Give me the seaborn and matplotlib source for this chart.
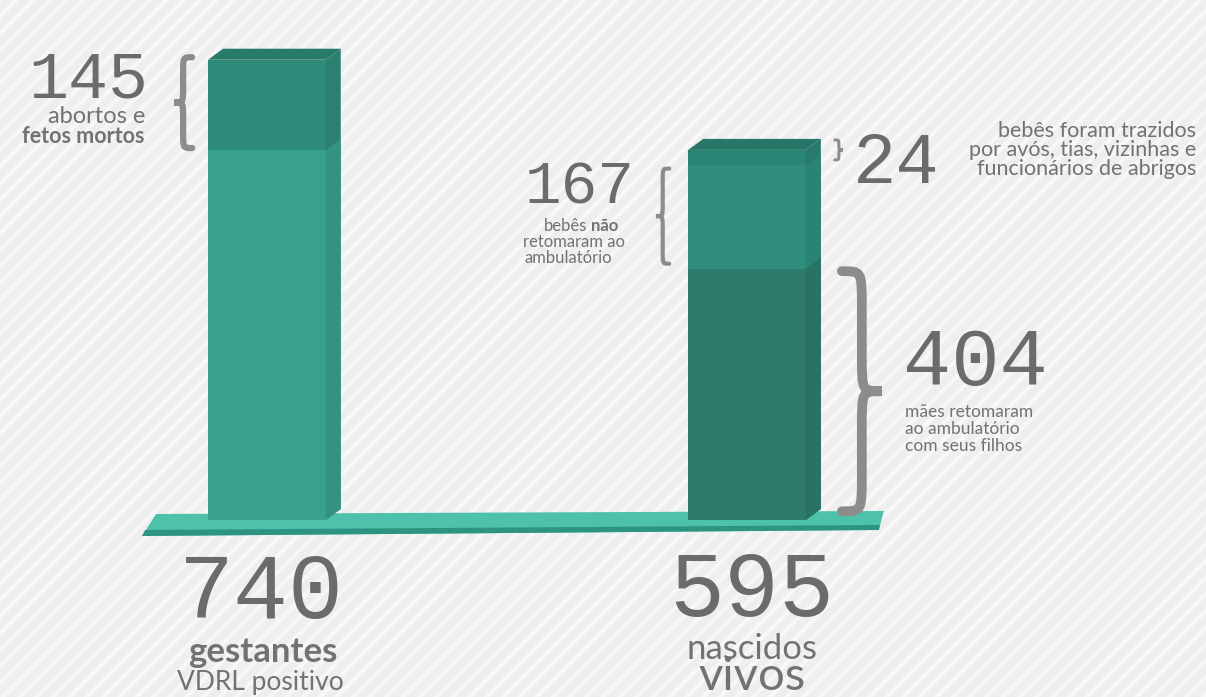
import numpy as np
import pandas as pd
import matplotlib
matplotlib.use("Agg")
import matplotlib.pyplot as plt
import seaborn as sns
from matplotlib.patches import Polygon, Rectangle, PathPatch
from matplotlib.path import Path

# ---------------- data ----------------
categories = ["gestantes VDRL positivo", "nascidos vivos"]
totals = [740, 595]
abortos_fetos_mortos = 145
trazidos_por_outros = 24
nao_retornaram = 167
maes_retornaram = 404

# cumulative layers (drawn tallest first, overlapping = stacked look)
layer_values = [
    [totals[0], totals[1]],
    [totals[0] - abortos_fetos_mortos, totals[1] - trazidos_por_outros],
    [0, maes_retornaram],
]
front_colors = [
    ["#2f8b79", "#2b8575"],
    ["#39a08b", "#2f8e7d"],
    ["#39a08b", "#2d7b6a"],
]
side_colors = [
    ["#2b8070", "#287b6c"],
    ["#33937f", "#2b8374"],
    ["#33937f", "#2a7264"],
]
top_colors = ["#287a69", "#277667"]

# ---------------- style ----------------
sns.set_theme(style="white")
plt.rcParams["font.family"] = ["Lato", "DejaVu Sans"]
plt.rcParams["hatch.linewidth"] = 3.0

W_PX, H_PX = 1206, 697
fig = plt.figure(figsize=(W_PX / 100, H_PX / 100), dpi=100)
ax = fig.add_axes([0, 0, 1, 1])

XLIM = (-0.556, 1.956)
YLIM = (-284.6, 836.0)
sx = (XLIM[1] - XLIM[0]) / W_PX   # data units per pixel (x)
sy = (YLIM[1] - YLIM[0]) / H_PX   # data units per pixel (y)

# striped background
ax.add_patch(Rectangle((0, 0), 1, 1, transform=ax.transAxes, facecolor="#eeeeee",
                       edgecolor="#f7f7f7", linewidth=0, hatch="//", zorder=-10))

DX, DY = 15 * sx, 11 * sy
bar_geom = {}
for li, vals in enumerate(layer_values):
    n0 = len(ax.patches)
    sns.barplot(x=categories, y=vals, hue=categories,
                palette=dict(zip(categories, front_colors[li])),
                width=0.245, saturation=1, legend=False, errorbar=None,
                linewidth=0, ax=ax, zorder=3 + li)
    new = sorted(ax.patches[n0:], key=lambda p: p.get_x())
    for ci, p in enumerate(new):
        h = p.get_height()
        if h <= 0:
            continue
        x0 = p.get_x()
        x1 = x0 + p.get_width()
        ax.add_patch(Polygon([(x1, 0), (x1 + DX, DY), (x1 + DX, h + DY), (x1, h)],
                             closed=True, facecolor=side_colors[li][ci],
                             edgecolor="none", zorder=3 + li))
        if li == 0:
            ax.add_patch(Polygon([(x0, h), (x0 + DX, h + DY), (x1 + DX, h + DY), (x1, h)],
                                 closed=True, facecolor=top_colors[ci],
                                 edgecolor="none", zorder=3 + li))
            bar_geom[ci] = (x0, x1, h)

# platform
xl = bar_geom[0][0] - 66 * sx
xr = bar_geom[1][1] + 76 * sx
ax.add_patch(Polygon([(xl, -16 * sy), (xl + 14 * sx, 6 * sy), (xr + 2 * sx, 9 * sy),
                      (xr - 3 * sx, -10 * sy)], closed=True,
                     facecolor="#4ec1aa", edgecolor="none", zorder=2))
ax.add_patch(Polygon([(xl, -16 * sy), (xl + 3 * sx, -10 * sy), (xr - 2 * sx, -5 * sy),
                      (xr - 3 * sx, -10 * sy)], closed=True,
                     facecolor="#2e9482", edgecolor="none", zorder=2))


def brace(x_tip, y0, y1, width_px, side, lw, color="#8c8c8c"):
    """side=-1 -> '{' (point to the left), +1 -> '}' (point to the right)"""
    w = side * width_px * sx
    r = min(width_px * 0.9, abs(y1 - y0) / sy / 4) * sy
    ym = (y0 + y1) / 2
    xs = x_tip + w * 0.5
    verts = [(x_tip, y1),
             (xs, y1), (xs, y1), (xs, y1 - r),
             (xs, ym + r),
             (xs, ym), (xs, ym), (x_tip + w, ym),
             (xs, ym), (xs, ym), (xs, ym - r),
             (xs, y0 + r),
             (xs, y0), (xs, y0), (x_tip, y0)]
    codes = [Path.MOVETO,
             Path.CURVE4, Path.CURVE4, Path.CURVE4,
             Path.LINETO,
             Path.CURVE4, Path.CURVE4, Path.CURVE4,
             Path.CURVE4, Path.CURVE4, Path.CURVE4,
             Path.LINETO,
             Path.CURVE4, Path.CURVE4, Path.CURVE4]
    ax.add_patch(PathPatch(Path(verts, codes), facecolor="none", edgecolor=color,
                           linewidth=lw, capstyle="round", zorder=6))


b0x0, b0x1, b0h = bar_geom[0]
b1x0, b1x1, b1h = bar_geom[1]
brace(b0x0 - 16 * sx, totals[0] - abortos_fetos_mortos + 3, totals[0] + 4, 18, -1, 4.5)
brace(b1x1 + DX + 14 * sx, totals[1] - trazidos_por_outros + 8, totals[1] + 16, 8, +1, 2.2)
brace(b1x0 - 19 * sx, maes_retornaram + 8, maes_retornaram + nao_retornaram - 6, 13, -1, 3.0)
brace(b1x1 + 36 * sx, 14, maes_retornaram - 4, 40, +1, 7)

ax.set_xlim(*XLIM)
ax.set_ylim(*YLIM)
ax.axis("off")

# ---------------- texts ----------------
NUM = "#6b6b6b"
LAB = "#727272"


def T(px, py, s, size, ha="left", fam=None, weight="normal", color=LAB):
    fig.text(px / W_PX, 1 - py / H_PX, s, fontsize=size, ha=ha, va="baseline",
             family=fam or ["Lato", "DejaVu Sans"], fontweight=weight, color=color)


MONO = ["Liberation Mono", "DejaVu Sans Mono"]
T(148, 97, str(abortos_fetos_mortos), 48, ha="right", fam=MONO, color=NUM)
T(145, 123, "abortos e", 17, ha="right")
T(145, 143, "fetos mortos", 15.5, ha="right", weight="bold")

T(580, 204, str(nao_retornaram), 44, ha="center", fam=MONO, color=NUM)
T(587, 231, "bebês", 12, ha="right")
T(591, 231, "não", 12, ha="left", weight="bold")
T(574, 247, "retomaram ao", 12, ha="center")
T(568, 263, "ambulatório", 12, ha="center")

T(853, 183, str(trazidos_por_outros), 52, ha="left", fam=MONO, color=NUM)
T(1196, 137, "bebês foram trazidos", 15.5, ha="right")
T(1196, 156, "por avós, tias, vizinhas e", 15.5, ha="right")
T(1196, 175, "funcionários de abrigos", 15.5, ha="right")

T(903, 385, str(maes_retornaram), 58, ha="left", fam=MONO, color=NUM)
T(905, 417, "mães retomaram", 12.5, ha="left")
T(905, 434, "ao ambulatório", 12.5, ha="left")
T(905, 451, "com seus filhos", 12.5, ha="left")

T(261, 618, str(totals[0]), 66, ha="center", fam=MONO, color=NUM)
T(263, 662, "gestantes", 25, ha="center", weight="bold")
T(260, 690, "VDRL positivo", 19, ha="center")

T(752, 616, str(totals[1]), 66, ha="center", fam=MONO, color=NUM)
T(752, 659, "nascidos", 25, ha="center")
T(752, 690, "vivos", 34, ha="center")

fig.savefig("out.png", dpi=100)
